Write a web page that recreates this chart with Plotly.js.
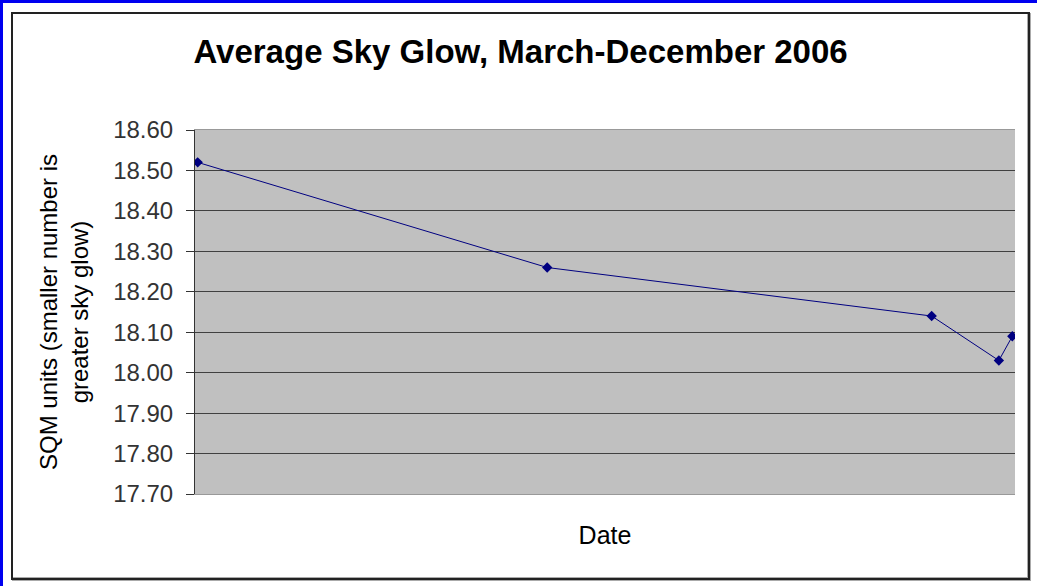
<!DOCTYPE html>
<html>
<head>
<meta charset="utf-8">
<script src="https://cdn.plot.ly/plotly-3.0.1.min.js"></script>
<style>
  html, body { margin: 0; padding: 0; background: #fff; }
  #wrap { position: relative; width: 1037px; height: 586px; overflow: hidden; background: #fff; }
  #blueTop { position: absolute; left: 0; top: 0; width: 1037px; height: 3px; background: #0000f0; }
  #blueLeft { position: absolute; left: 0; top: 0; width: 3px; height: 586px; background: #0000f0; }
  #frame { position: absolute; left: 11px; top: 12px; width: 1015px; height: 564px; border: 2px solid #222; box-shadow: 1px 1px 0 #aaa, -1px -1px 0 #aaa inset; }
  #chart { position: absolute; left: 0; top: 0; width: 1037px; height: 586px; }
</style>
</head>
<body>
<div id="wrap">
  <div id="blueTop"></div>
  <div id="blueLeft"></div>
  <div id="frame"></div>
  <div id="chart"></div>
</div>
<script>
// Data
const dates = ['2006-03-02', '2006-07-10', '2006-11-30', '2006-12-25', '2006-12-30'];
const sqmValues = [18.52, 18.26, 18.14, 18.03, 18.09];
const yTickValues = [17.7, 17.8, 17.9, 18.0, 18.1, 18.2, 18.3, 18.4, 18.5, 18.6];
const yTickLabels = ['17.70', '17.80', '17.90', '18.00', '18.10', '18.20', '18.30', '18.40', '18.50', '18.60'];
const xRange = ['2006-03-01', '2006-12-31'];

const trace = {
  x: dates,
  y: sqmValues,
  type: 'scatter',
  mode: 'lines+markers',
  line: { color: '#000080', width: 1 },
  marker: { symbol: 'diamond', size: 8, color: '#000080' },
  showlegend: false,
  hoverinfo: 'x+y'
};

const layout = {
  width: 1037,
  height: 586,
  margin: { l: 195, r: 22, t: 130, b: 92 },
  paper_bgcolor: 'rgba(0,0,0,0)',
  plot_bgcolor: '#c0c0c0',
  font: { family: 'Liberation Sans, Arial, sans-serif', color: '#000' },
  title: {
    text: '<b>Average Sky Glow, March-December 2006</b>',
    font: { size: 33, color: '#000' },
    x: 0.502, xanchor: 'center',
    y: 0.912, yanchor: 'middle'
  },
  xaxis: {
    type: 'date',
    range: xRange,
    showticklabels: false,
    ticks: '',
    showgrid: false,
    zeroline: false,
    showline: true,
    linecolor: '#999',
    linewidth: 1,
    mirror: true,
    title: { text: 'Date', font: { size: 25, color: '#000' }, standoff: 32 }
  },
  yaxis: {
    range: [17.7, 18.6],
    tickvals: yTickValues,
    ticktext: yTickLabels,
    tickfont: { size: 24, color: '#333' },
    ticks: 'outside',
    ticklen: 8,
    tickcolor: '#333',
    ticklabelstandoff: 8,
    showgrid: true,
    gridcolor: '#404040',
    gridwidth: 1,
    zeroline: false,
    showline: true,
    linecolor: '#333',
    linewidth: 1,
    mirror: false,
    title: {
      text: 'SQM units (smaller number is<br>greater sky glow)',
      font: { size: 24, color: '#000' },
      standoff: 17
    }
  }
};

Plotly.newPlot('chart', [trace], layout, { displayModeBar: false, staticPlot: true });
</script>
</body>
</html>
